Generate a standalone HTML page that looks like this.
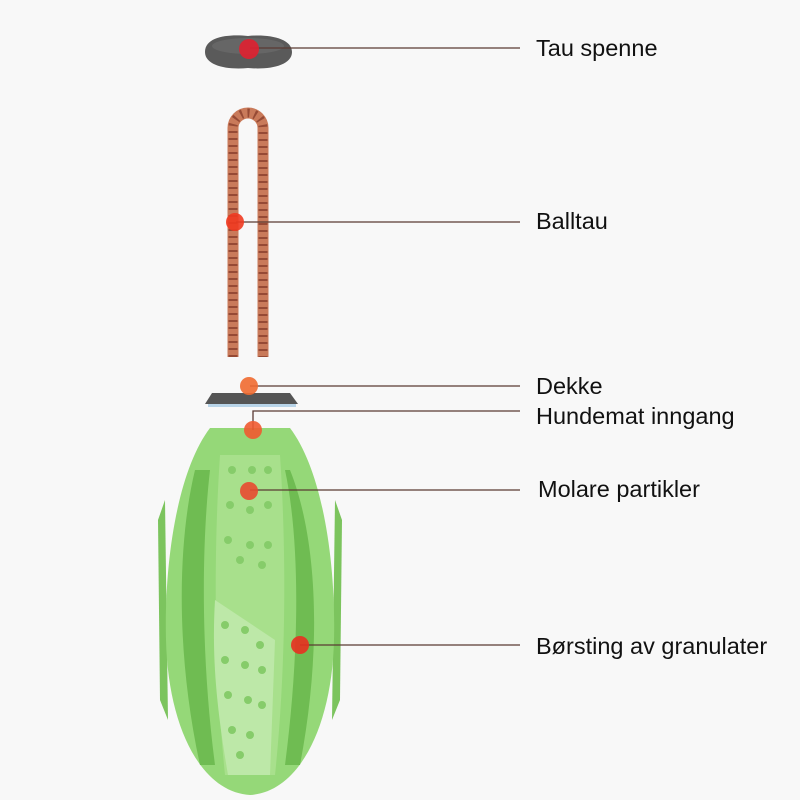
<!DOCTYPE html>
<html><head><meta charset="utf-8"><style>
html,body{margin:0;padding:0;background:#f8f8f8;}
svg{display:block}
text{font-family:"Liberation Sans",sans-serif;font-size:23.5px;fill:#111}
</style></head><body>
<svg width="800" height="800" viewBox="0 0 800 800">
<rect width="800" height="800" fill="#f8f8f8"/>
<!-- clasp -->
<path d="M205,52 C205,36 230,34 248,36 C268,34 292,38 292,52 C292,66 268,70 248,68 C228,70 205,66 205,52Z" fill="#5a5a5a"/>
<ellipse cx="248" cy="46" rx="36" ry="8" fill="#6e6e6e" opacity="0.6"/>
<!-- rope -->
<path d="M233,357 L233,128 A15,15 0 0 1 263,128 L263,357" fill="none" stroke="#c97a5a" stroke-width="11"/>
<path d="M233,357 L233,128 A15,15 0 0 1 263,128 L263,357" fill="none" stroke="#8a3f2c" stroke-width="9" stroke-dasharray="2 5" opacity="0.8"/>
<!-- cover -->
<path d="M212,393 L290,393 L298,404 L205,404Z" fill="#555"/>
<rect x="208" y="404" width="88" height="3" fill="#b8d4e8"/>
<!-- ball -->
<path d="M158,520 L165,500 L168,720 L160,700Z" fill="#7cc45e"/>
<path d="M342,520 L335,500 L332,720 L340,700Z" fill="#7cc45e"/>
<path d="M210,428 L290,428 C322,470 336,560 334,640 C332,725 300,792 250,795 C200,792 168,725 166,640 C164,560 178,470 210,428Z" fill="#95d878"/>
<path d="M195,470 C178,540 175,650 200,765 L215,765 C200,650 202,540 210,470Z" fill="#6fbc52"/>
<path d="M290,470 C318,540 322,650 300,765 L285,765 C300,650 300,540 285,470Z" fill="#6fbc52"/>
<path d="M220,455 L280,455 C285,530 288,650 275,775 L225,775 C212,650 215,530 220,455Z" fill="#a8e08c"/>
<path d="M215,600 L275,640 L270,775 L228,775 C215,700 212,650 215,600Z" fill="#bde8a8"/>
<g fill="#86cc6a">
<circle cx="232" cy="470" r="4"/><circle cx="252" cy="470" r="4"/><circle cx="268" cy="470" r="4"/>
<circle cx="230" cy="505" r="4"/><circle cx="250" cy="510" r="4"/><circle cx="268" cy="505" r="4"/>
<circle cx="228" cy="540" r="4"/><circle cx="250" cy="545" r="4"/><circle cx="268" cy="545" r="4"/>
<circle cx="240" cy="560" r="4"/><circle cx="262" cy="565" r="4"/>
<circle cx="225" cy="625" r="4"/><circle cx="245" cy="630" r="4"/><circle cx="260" cy="645" r="4"/>
<circle cx="225" cy="660" r="4"/><circle cx="245" cy="665" r="4"/><circle cx="262" cy="670" r="4"/>
<circle cx="228" cy="695" r="4"/><circle cx="248" cy="700" r="4"/><circle cx="262" cy="705" r="4"/>
<circle cx="232" cy="730" r="4"/><circle cx="250" cy="735" r="4"/><circle cx="240" cy="755" r="4"/>
</g>
<!-- lines -->
<g stroke="#5a3a33" stroke-width="1.3" fill="none">
<line x1="250" y1="48" x2="520" y2="48"/>
<line x1="236" y1="222" x2="520" y2="222"/>
<line x1="250" y1="386" x2="520" y2="386"/>
<polyline points="253,430 253,411 520,411"/>
<line x1="250" y1="490" x2="520" y2="490"/>
<line x1="300" y1="645" x2="520" y2="645"/>
</g>
<!-- dots -->
<g>
<circle cx="249" cy="49" r="10" fill="#e02030" opacity="0.9"/>
<circle cx="235" cy="222" r="9" fill="#f03a20" opacity="0.9"/>
<circle cx="249" cy="386" r="9" fill="#f06a30" opacity="0.9"/>
<circle cx="253" cy="430" r="9" fill="#f05a30" opacity="0.9"/>
<circle cx="249" cy="491" r="9" fill="#e84a30" opacity="0.9"/>
<circle cx="300" cy="645" r="9" fill="#e83020" opacity="0.9"/>
</g>
<text x="536" y="56">Tau spenne</text>
<text x="536" y="229">Balltau</text>
<text x="536" y="394">Dekke</text>
<text x="536" y="424">Hundemat inngang</text>
<text x="538" y="497">Molare partikler</text>
<text x="536" y="654">Børsting av granulater</text>
</svg>
</body></html>
